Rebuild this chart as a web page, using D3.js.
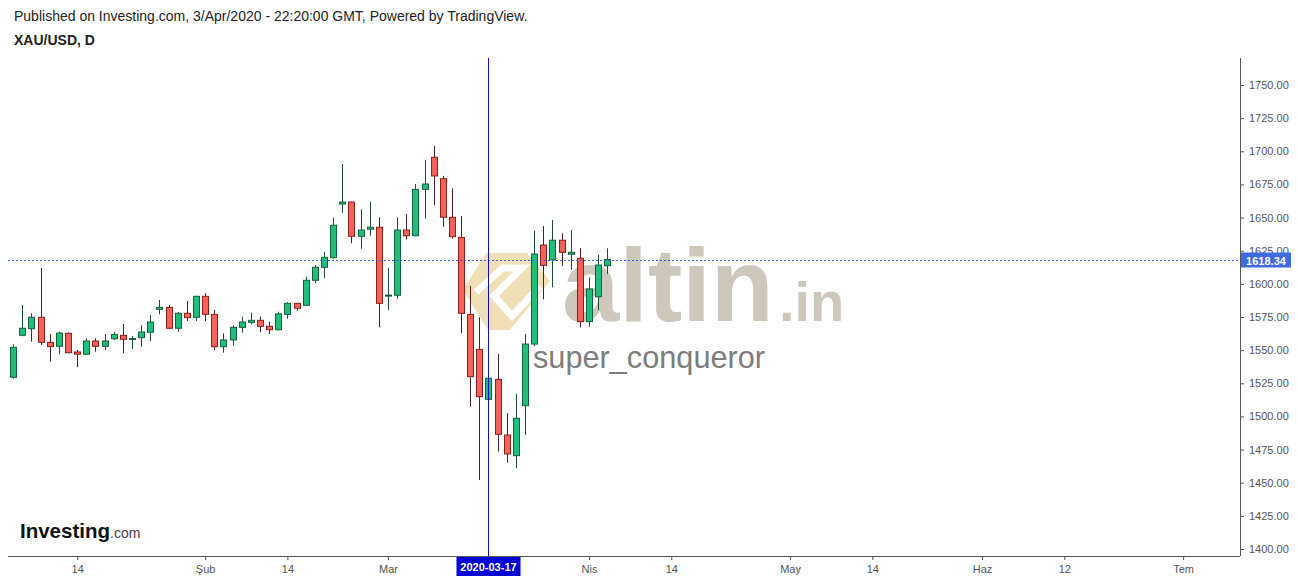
<!DOCTYPE html>
<html>
<head>
<meta charset="utf-8">
<script src="https://cdn.jsdelivr.net/npm/d3@7"></script>
<style>
html,body{margin:0;padding:0;background:#fff;}
svg{display:block;font-family:"Liberation Sans",Arial,sans-serif;}
</style>
</head>
<body>
<svg id="chart" width="1299" height="580"></svg>
<script>
// ---- data (XAU/USD daily, 3 Jan 2020 .. 3 Apr 2020) ----
const firstDate = "2020-01-03";
const openV  = [1529.5,1561.2,1566.2,1574.8,1555.9,1552.9,1562.7,1548.6,1546.9,1556.9,1552.9,1558.6,1561.2,1558.2,1559.4,1563.5,1580.8,1582.3,1566.5,1577.8,1574.8,1590.6,1577.0,1552.6,1557.7,1567.2,1571.0,1572.5,1568.0,1565.4,1577.0,1585.3,1583.8,1602.7,1612.5,1619.7,1660.2,1661.7,1635.9,1641.2,1642.7,1591.0,1591.4,1640.6,1636.3,1671.3,1695.5,1679.3,1650.2,1635.0,1577.0,1550.6,1512.9,1528.0,1486.0,1470.4,1508.1,1554.6,1629.3,1618.0,1632.9,1622.3,1619.3,1571.5,1590.3,1613.7];
const highV  = [1554.4,1584.0,1577.8,1612.0,1562.2,1563.9,1563.2,1550.1,1558.9,1558.9,1562.2,1563.7,1569.7,1560.7,1568.7,1576.5,1587.8,1584.0,1578.8,1587.1,1591.0,1592.9,1580.3,1562.7,1568.7,1575.2,1578.2,1575.2,1571.5,1579.0,1586.1,1585.5,1605.4,1614.2,1624.3,1649.9,1690.4,1662.0,1656.2,1662.0,1650.2,1612.2,1650.2,1652.7,1675.3,1693.4,1704.0,1681.4,1672.1,1651.2,1598.4,1574.8,1553.9,1547.1,1502.4,1516.9,1562.2,1640.1,1643.6,1648.2,1638.1,1640.6,1626.8,1604.9,1621.8,1626.8];
const lowV   = [1528.5,1560.5,1556.4,1553.9,1541.3,1546.9,1547.6,1537.1,1546.5,1548.8,1550.1,1557.7,1547.6,1550.9,1552.6,1556.9,1577.0,1566.0,1563.9,1572.0,1572.0,1572.0,1550.1,1548.1,1553.4,1563.2,1569.5,1563.5,1562.2,1565.0,1573.7,1579.8,1583.5,1600.4,1604.4,1619.0,1653.7,1630.6,1626.5,1636.3,1567.2,1580.3,1588.8,1633.6,1636.0,1649.2,1659.3,1643.1,1634.1,1562.7,1507.3,1452.0,1467.1,1473.4,1465.1,1460.9,1486.0,1553.0,1588.3,1597.4,1613.5,1610.5,1567.2,1567.7,1580.3,1607.4];
const closeV = [1552.1,1566.5,1574.8,1555.9,1552.6,1562.9,1548.1,1546.9,1556.9,1552.9,1556.9,1561.9,1558.2,1558.8,1563.7,1571.2,1582.3,1566.5,1577.8,1574.5,1590.6,1577.0,1552.6,1557.7,1567.2,1571.2,1572.5,1568.0,1565.4,1577.3,1585.3,1581.6,1602.7,1612.5,1620.0,1644.2,1661.7,1635.9,1640.6,1642.7,1585.3,1591.5,1640.6,1636.3,1671.3,1675.3,1681.4,1650.2,1635.6,1577.8,1530.0,1514.9,1528.8,1486.5,1471.7,1498.6,1554.6,1622.5,1614.0,1632.9,1623.8,1623.8,1571.5,1596.1,1614.2,1618.34];
const lastPrice = 1618.34;
const crossDate = "2020-03-17";
const yTicks = [1400,1425,1450,1475,1500,1525,1550,1575,1600,1625,1650,1675,1700,1725,1750];
const xTickDates  = ["2020-01-14","2020-02-03","2020-02-14","2020-03-02","2020-04-01","2020-04-14","2020-05-01","2020-05-14","2020-06-01","2020-06-12","2020-07-01"];
const xTickLabels = ["14","Şub","14","Mar","Nis","14","May","14","Haz","12","Tem"];

// ---- layout ----
const W = 1299, H = 580;
const plotL = 8, plotR = 1240, plotT = 58, plotB = 556;

const parse = d3.utcParse("%Y-%m-%d");
const start = parse(firstDate);
// trading-day index (weekdays) of a date relative to firstDate
function tradeIndex(ds){
  const d = parse(ds);
  return d3.utcDay.range(start, d).filter(t => t.getUTCDay() !== 0 && t.getUTCDay() !== 6).length;
}

const x = d3.scaleLinear().domain([0, 100]).range([13.2, 13.2 + 914]);
const y = d3.scaleLinear().domain([1400, 1750]).range([549, 85]);

const svg = d3.select("#chart");
svg.append("rect").attr("width", W).attr("height", H).attr("fill", "#fff");

// header
svg.append("text").attr("x", 14).attr("y", 21).attr("font-size", 14).attr("fill", "#222")
  .text("Published on Investing.com, 3/Apr/2020 - 22:20:00 GMT, Powered by TradingView.");
svg.append("text").attr("x", 14).attr("y", 45).attr("font-size", 14).attr("font-weight", "bold").attr("fill", "#222")
  .text("XAU/USD, D");

// watermark
const wm = svg.append("g");
const logo = wm.append("g").attr("opacity", 0.55);
logo.append("path").attr("fill", "#e6c77e")
  .attr("d", "M486,253 L527,253 L550,281 L510,330 L488,330 L463,290 Z");
logo.append("path").attr("fill", "none").attr("stroke", "#fff").attr("stroke-width", 7).attr("stroke-linejoin", "miter")
  .attr("d", "M476,292 L503,268 L522,268 L494,296 L512,316 L540,286");
wm.append("text").attr("x", 562).attr("y", 321).attr("font-size", 103).attr("font-weight", "bold")
  .attr("fill", "#cbc5b9").attr("opacity", 0.95).text("altin");
wm.append("text").attr("x", 779).attr("y", 321).attr("font-size", 56).attr("font-weight", "bold")
  .attr("fill", "#cbc5b9").attr("opacity", 0.95).text(".in");
wm.append("text").attr("x", 533).attr("y", 368).attr("font-size", 30.7)
  .attr("fill", "#7d7d7d").text("super_conqueror");

// Investing.com logo
const lg = svg.append("g");
lg.append("text").attr("x", 20).attr("y", 538).attr("font-size", 20).attr("font-weight", "bold")
  .attr("fill", "#111").attr("textLength", 90).attr("lengthAdjust", "spacingAndGlyphs").text("Investing");
lg.append("text").attr("x", 110).attr("y", 538).attr("font-size", 14).attr("fill", "#444").text(".com");

// axes lines
svg.append("line").attr("x1", plotR).attr("x2", plotR).attr("y1", plotT).attr("y2", plotB)
  .attr("stroke", "#555").attr("stroke-width", 1).attr("shape-rendering", "crispEdges");
svg.append("line").attr("x1", plotL).attr("x2", plotR).attr("y1", plotB).attr("y2", plotB)
  .attr("stroke", "#555").attr("stroke-width", 1).attr("shape-rendering", "crispEdges");

// y axis
const yAxis = d3.axisRight(y).tickValues(yTicks).tickFormat(d3.format(".2f")).tickSize(4).tickPadding(5);
const gy = svg.append("g").attr("transform", `translate(${plotR},0)`).call(yAxis);
gy.select(".domain").remove();
gy.selectAll(".tick line").attr("stroke", "#555");
gy.selectAll(".tick text").attr("fill", "#555").attr("font-size", 11)
  .attr("font-family", '"Liberation Sans",Arial,sans-serif');

// x axis
const xAxis = d3.axisBottom(x).tickValues(xTickDates.map(tradeIndex))
  .tickFormat((d, i) => xTickLabels[i]).tickSize(4).tickPadding(5);
const gx = svg.append("g").attr("transform", `translate(0,${plotB})`).call(xAxis);
gx.select(".domain").remove();
gx.selectAll(".tick line").attr("stroke", "#555");
gx.selectAll(".tick text").attr("fill", "#555").attr("font-size", 11)
  .attr("font-family", '"Liberation Sans",Arial,sans-serif');

// candles
const candles = openV.map((o, i) => ({i, o, h: highV[i], l: lowV[i], c: closeV[i]}));
const cg = svg.append("g");
const bw = 6;
cg.selectAll("line.wick").data(candles).join("line").attr("class", "wick")
  .attr("x1", d => Math.round(x(d.i)) + 0.5).attr("x2", d => Math.round(x(d.i)) + 0.5)
  .attr("y1", d => y(d.h)).attr("y2", d => y(d.l))
  .attr("stroke", d => d.c >= d.o ? "#1d4d36" : "#4a2220").attr("stroke-width", 1);
cg.selectAll("rect.body").data(candles).join("rect").attr("class", "body")
  .attr("x", d => Math.round(x(d.i)) - bw / 2 + 0.5)
  .attr("y", d => y(Math.max(d.o, d.c)))
  .attr("width", bw)
  .attr("height", d => Math.max(1, y(Math.min(d.o, d.c)) - y(Math.max(d.o, d.c))))
  .attr("fill", d => d.c >= d.o ? "#1fbf7b" : "#f4635b")
  .attr("stroke", d => d.c >= d.o ? "#17603f" : "#8c1f18").attr("stroke-width", 1);

// last price line + label
const py = Math.round(y(lastPrice)) + 0.5;
svg.append("line").attr("x1", plotL).attr("x2", plotR).attr("y1", py).attr("y2", py)
  .attr("stroke", "#3d5fd0").attr("stroke-width", 1).attr("stroke-dasharray", "2,2");
svg.append("rect").attr("x", plotR + 1).attr("y", py - 8).attr("width", 50).attr("height", 15).attr("fill", "#3f6ae0");
svg.append("text").attr("x", plotR + 26).attr("y", py + 4).attr("text-anchor", "middle")
  .attr("font-size", 11).attr("font-weight", "bold").attr("fill", "#fff").text(lastPrice.toFixed(2));

// crosshair
const cx = Math.round(x(tradeIndex(crossDate))) + 0.5;
svg.append("line").attr("x1", cx).attr("x2", cx).attr("y1", plotT).attr("y2", plotB)
  .attr("stroke", "#1010c8").attr("stroke-width", 1);
svg.append("rect").attr("x", cx - 32).attr("y", plotB + 1).attr("width", 64).attr("height", 19).attr("fill", "#0000d4");
svg.append("text").attr("x", cx).attr("y", plotB + 15).attr("text-anchor", "middle")
  .attr("font-size", 11).attr("font-weight", "bold").attr("fill", "#fff").text(crossDate);
</script>
</body>
</html>
